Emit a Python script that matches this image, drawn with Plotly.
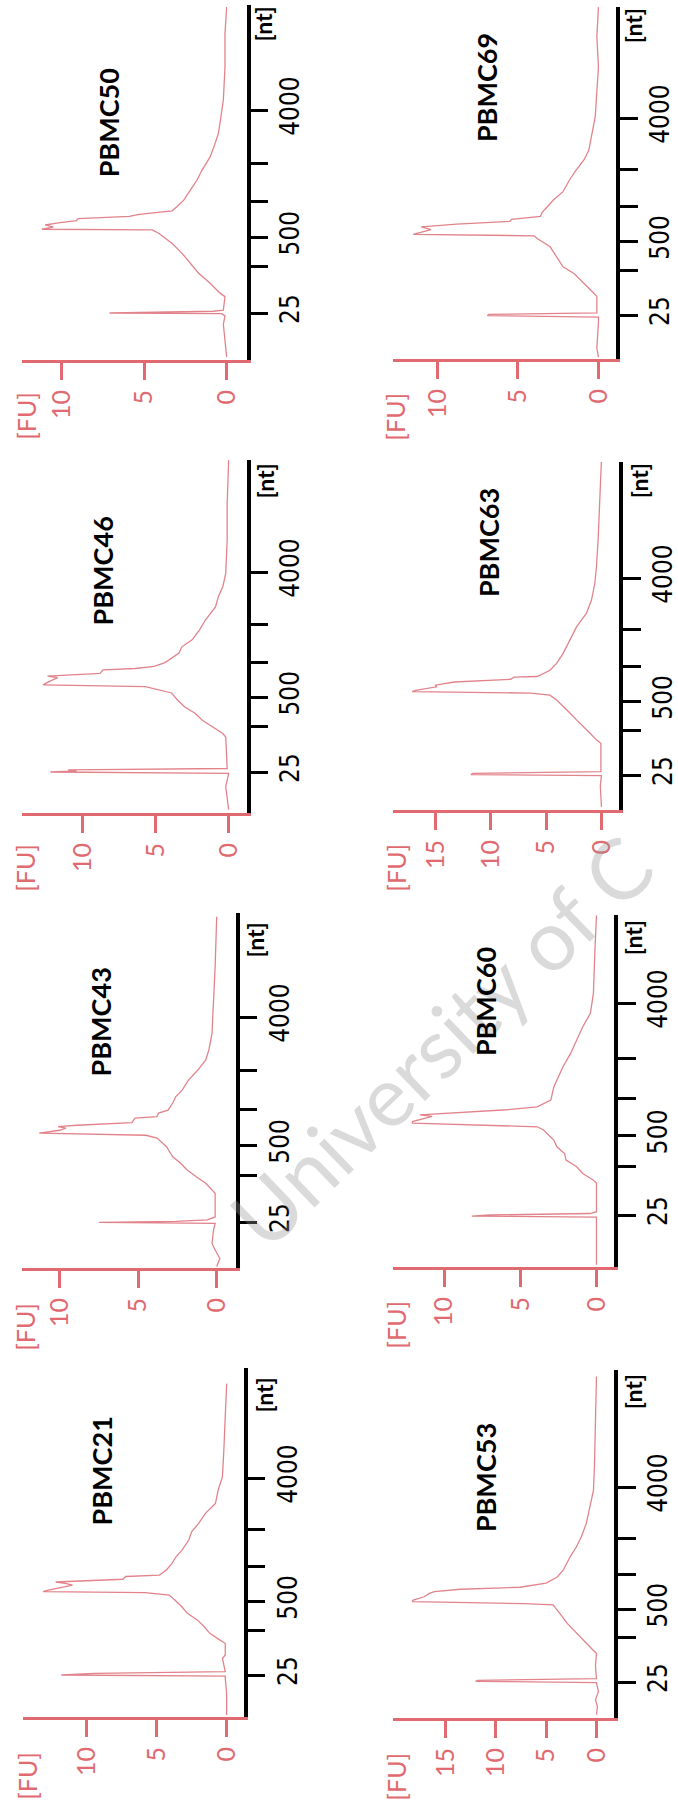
import plotly.graph_objects as go

W, H = 678, 1814

# ---------------- data ----------------
sample_names = ["PBMC50", "PBMC69", "PBMC46", "PBMC63", "PBMC43", "PBMC60", "PBMC21", "PBMC53"]

# ladder: size (nt) and migration time (s) of each tick
ladder_nt = [25, 200, 500, 1000, 2000, 4000]
ladder_time = [25.6, 32.1, 36.3, 41.3, 46.7, 54.2]
ladder_labels = ["25", "", "500", "", "", "4000"]

fu_ticks_small = [0, 5, 10]
fu_ticks_large = [0, 5, 10, 15]

t_pbmc50 = [19.4, 22.0, 24.0, 25.2, 25.5, 25.6, 25.75, 25.85, 26.0, 27.9, 28.4, 29.8, 31.2, 32.6, 34.0, 35.4, 36.8, 37.3, 37.4, 37.7,
            38.0, 38.3, 38.6, 38.9, 39.2, 39.5, 40.0, 40.6, 41.5, 42.9, 44.3, 45.7, 47.6, 49.5, 50.9, 53.2, 55.6, 60.3, 65.0, 68.7]
fu_pbmc50 = [0.0, 0.1, 0.2, 0.1, 0.3, 7.1, 2.5, 0.8, 0.2, 0.1, 0.4, 1.0, 1.7, 2.2, 2.7, 3.3, 4.1, 4.5, 11.2, 10.5,
             11.0, 10.2, 9.1, 9.0, 5.9, 5.3, 3.3, 3.0, 2.6, 2.2, 1.8, 1.5, 1.0, 0.7, 0.5, 0.35, 0.2, 0.1, 0.1, 0.0]

t_pbmc69 = [19.5, 20.8, 24.5, 25.3, 25.5, 25.7, 25.9, 28.3, 28.8, 30.2, 31.6, 32.6, 34.1, 35.5, 36.7, 37.1, 37.3, 37.7, 38.0, 38.4,
            38.8, 39.2, 39.5, 39.9, 40.5, 41.5, 42.3, 43.5, 45.2, 46.6, 48.1, 49.5, 52.0, 54.4, 58.0, 61.6, 66.0, 70.3]
fu_pbmc69 = [0.0, 0.1, 0.0, 0.0, 6.9, 6.8, 0.1, 0.1, 0.3, 0.9, 1.5, 2.2, 2.6, 3.0, 3.8, 4.0, 11.5, 10.8, 10.4, 11.0,
             8.8, 5.5, 5.4, 3.6, 3.5, 3.1, 2.8, 2.2, 1.8, 1.4, 0.9, 0.6, 0.4, 0.2, 0.1, 0.0, 0.1, 0.0]

t_pbmc46 = [20.2, 23.5, 25.4, 25.6, 25.75, 25.9, 26.1, 30.6, 31.1, 32.1, 33.0, 34.0, 34.9, 35.9, 36.9, 37.8, 38.05, 38.3, 38.9, 39.1,
            39.3, 39.7, 40.2, 40.4, 40.7, 41.2, 41.6, 42.6, 43.5, 44.5, 45.9, 47.3, 49.2, 50.7, 52.1, 54.0, 58.8, 64.0, 70.2]
fu_pbmc46 = [0.0, 0.2, 0.0, 12.2, 10.4, 11.0, 0.1, 0.2, 0.4, 1.1, 1.8, 2.3, 3.0, 3.5, 3.9, 5.7, 12.7, 12.5, 11.9, 11.7,
             12.4, 8.8, 8.6, 6.4, 5.1, 4.4, 4.1, 3.4, 3.2, 2.5, 2.0, 1.6, 0.9, 0.7, 0.4, 0.2, 0.1, 0.1, 0.0]

t_pbmc63 = [21.0, 24.0, 25.5, 25.65, 25.85, 26.1, 30.2, 30.7, 31.7, 32.6, 33.6, 34.6, 35.5, 36.5, 37.2, 37.5, 37.7, 37.9, 38.4, 38.65,
            39.1, 39.5, 39.8, 39.9, 40.8, 41.8, 43.3, 45.2, 47.1, 49.1, 51.0, 53.4, 55.8, 59.7, 64.5, 71.3]
fu_pbmc63 = [0.0, 0.1, 0.0, 11.8, 11.6, 0.05, 0.05, 0.45, 1.05, 1.65, 2.25, 2.85, 3.45, 4.05, 4.65, 6.4, 17.1, 16.8, 14.9, 15.0,
             13.3, 8.2, 7.9, 5.8, 4.65, 4.05, 3.45, 2.85, 2.25, 1.35, 0.9, 0.6, 0.45, 0.3, 0.15, 0.0]

t_pbmc43 = [19.4, 20.5, 21.7, 22.6, 24.5, 25.4, 25.55, 25.7, 25.9, 26.3, 29.6, 30.1, 31.0, 31.9, 32.9, 33.8, 34.7, 36.1, 37.3, 37.7,
            38.0, 38.4, 38.7, 38.9, 39.1, 39.45, 40.1, 40.3, 40.8, 41.2, 42.2, 43.1, 44.0, 45.4, 46.8, 48.2, 49.6, 51.9, 56.6, 61.2, 68.2]
fu_pbmc43 = [0.0, -0.2, 0.1, 0.3, 0.2, 0.1, 7.5, 2.6, 0.6, 0.1, 0.1, 0.3, 0.7, 1.3, 1.9, 2.3, 2.8, 3.2, 3.8, 4.5,
             11.3, 10.0, 9.6, 10.1, 8.9, 5.4, 5.2, 3.8, 3.7, 3.1, 2.8, 2.6, 2.2, 1.8, 1.2, 0.7, 0.5, 0.3, 0.2, 0.1, 0.0]

t_pbmc60 = [18.9, 23.0, 25.3, 25.45, 25.6, 25.8, 26.05, 29.9, 30.3, 31.2, 32.1, 33.0, 33.9, 34.8, 35.7, 37.1, 37.5, 38.0, 38.2, 38.65,
            38.9, 39.1, 39.4, 39.8, 40.2, 41.1, 42.9, 43.8, 45.6, 47.4, 49.2, 51.0, 52.8, 55.5, 61.4, 66.0]
fu_pbmc60 = [0.0, 0.0, 0.0, 8.2, 7.0, 0.4, 0.0, 0.0, 0.2, 0.9, 1.3, 2.0, 2.1, 2.6, 2.8, 3.5, 3.9, 12.1, 12.1, 11.3,
             10.8, 11.6, 9.3, 5.9, 3.9, 3.0, 2.8, 2.6, 2.2, 1.7, 1.3, 0.9, 0.4, 0.2, 0.1, 0.0]

t_pbmc21 = [19.8, 23.0, 25.1, 25.45, 25.6, 25.85, 26.1, 28.0, 28.5, 30.2, 30.7, 31.65, 32.6, 33.6, 34.55, 35.5, 36.5, 37.2, 37.55, 37.7,
            37.9, 38.4, 38.65, 38.9, 39.1, 39.5, 39.9, 40.1, 40.85, 41.8, 42.8, 43.7, 45.2, 46.4, 47.6, 49.1, 50.5, 52.5, 54.4, 58.3, 67.9]
fu_pbmc21 = [0.0, 0.0, 0.1, 0.1, 11.8, 9.4, 0.1, 0.3, 0.1, 0.1, 0.5, 1.2, 1.6, 2.1, 2.8, 3.2, 3.7, 4.1, 5.8, 13.1,
             12.8, 11.6, 11.0, 11.5, 12.2, 7.4, 7.2, 4.8, 4.3, 3.9, 3.6, 3.2, 2.7, 2.5, 2.0, 1.5, 0.8, 0.6, 0.3, 0.2, 0.0]

t_pbmc53 = [20.8, 22.0, 23.0, 24.2, 25.5, 25.7, 25.85, 26.1, 28.0, 29.8, 30.3, 31.3, 32.2, 33.2, 34.2, 35.2, 36.2, 36.9, 37.1, 37.4,
            37.6, 38.1, 38.6, 38.85, 39.2, 39.5, 40.1, 41.0, 42.0, 44.0, 45.4, 46.9, 48.9, 50.8, 53.7, 57.2, 63.0, 70.4]
fu_pbmc53 = [0.0, -0.1, 0.1, -0.2, 0.0, 12.0, 11.8, 0.0, 0.1, 0.0, 0.35, 1.0, 1.6, 2.3, 2.9, 3.4, 3.9, 4.3, 7.2, 18.3,
             18.2, 17.1, 16.6, 16.1, 13.5, 7.6, 5.0, 3.9, 3.3, 2.6, 2.0, 1.5, 1.0, 0.7, 0.3, 0.2, 0.1, 0.0]

series_time = [t_pbmc50, t_pbmc69, t_pbmc46, t_pbmc63, t_pbmc43, t_pbmc60, t_pbmc21, t_pbmc53]
series_fu = [fu_pbmc50, fu_pbmc69, fu_pbmc46, fu_pbmc63, fu_pbmc43, fu_pbmc60, fu_pbmc21, fu_pbmc53]
fu_tickset = [fu_ticks_small, fu_ticks_small, fu_ticks_small, fu_ticks_large,
              fu_ticks_small, fu_ticks_small, fu_ticks_small, fu_ticks_large]

# ---------------- layout geometry (pixels) ----------------
# x_left, x_axis_nt, y_top, y_axis_fu, x_of_FU0, px_per_FU, y_of_25nt, y_of_4000nt
geom = [
    (22, 248, 5, 360, 228, 16.6, 313, 110),
    (395, 620, 7, 359, 602, 16.2, 315, 118),
    (22, 248, 460, 813, 230, 14.7, 772, 572),
    (395, 623, 462, 810, 605, 11.13, 775, 578),
    (22, 237, 913, 1268, 218, 15.8, 1222, 1017),
    (395, 618, 915, 1267, 600, 15.3, 1215, 1003),
    (23, 245, 1368, 1717, 228, 14.1, 1675, 1478),
    (395, 618, 1370, 1718, 600, 10.13, 1682, 1487),
]
title_pos = [(109, 123), (489, 88), (104, 571), (491, 543), (102, 1022), (488, 1002), (102, 1471), (488, 1478)]
nt_pos = [(265, 24), (637, 26), (267, 481), (643, 481), (257, 940), (637, 938), (266, 1395), (637, 1392)]
fu_pos = [(26, 416), (397, 417), (25, 868), (398, 868), (25, 1327), (398, 1325), (27, 1776), (398, 1777)]

FU_COLOR = "#e06a70"
TRACE_COLOR = "#e2838b"
LABEL_FONT = "Lato, 'Open Sans', sans-serif"
NT_FONT = "'Liberation Sans Narrow', 'DejaVu Sans Condensed', sans-serif"

fig = go.Figure()
layout = dict(
    width=W, height=H, margin=dict(l=0, r=0, t=0, b=0),
    paper_bgcolor="white", plot_bgcolor="rgba(0,0,0,0)", showlegend=False,
)
annotations = []

# watermark (drawn first, below the labels)
annotations.append(dict(
    text="University of C", xref="paper", yref="paper", x=443 / W, y=1 - 1040 / H,
    xanchor="center", yanchor="middle", textangle=-44, showarrow=False,
    font=dict(family=LABEL_FONT, size=84, color="rgba(150,150,150,0.35)"),
))

for i, name in enumerate(sample_names):
    x0, x1, yt, yb, xf0, ppf, y25, y4k = geom[i]
    xa = "x" if i == 0 else f"x{i+1}"
    ya = "y" if i == 0 else f"y{i+1}"
    fig.add_trace(go.Scatter(
        x=series_fu[i], y=series_time[i], mode="lines",
        line=dict(color=TRACE_COLOR, width=1.3),
        xaxis=xa, yaxis=ya, hoverinfo="skip", showlegend=False,
    ))
    fu_max = (xf0 - x0) / ppf
    fu_min = (xf0 - x1) / ppf
    pps = (y25 - y4k) / (ladder_time[-1] - ladder_time[0])
    t_bot = ladder_time[0] - (yb - y25) / pps
    t_top = ladder_time[0] + (y25 - yt) / pps
    xkey = "xaxis" if i == 0 else f"xaxis{i+1}"
    ykey = "yaxis" if i == 0 else f"yaxis{i+1}"
    layout[xkey] = dict(
        domain=[x0 / W, x1 / W], range=[fu_max, fu_min], anchor=ya, side="bottom",
        showgrid=False, zeroline=False, showline=True, linecolor=FU_COLOR, linewidth=3,
        ticks="outside", ticklen=17, tickwidth=3, tickcolor=FU_COLOR,
        tickvals=fu_tickset[i], ticktext=[str(v) for v in fu_tickset[i]],
        tickangle=-90, tickfont=dict(family=LABEL_FONT, size=25, color=FU_COLOR),
        fixedrange=True,
    )
    layout[ykey] = dict(
        domain=[1 - yb / H, 1 - yt / H], range=[t_bot, t_top], anchor=xa, side="right",
        showgrid=False, zeroline=False, showline=True, linecolor="black", linewidth=3.5,
        ticks="outside", ticklen=18, tickwidth=3, tickcolor="black",
        tickvals=ladder_time, ticktext=ladder_labels,
        tickangle=-90, tickfont=dict(family=NT_FONT, size=26, color="black"),
        fixedrange=True,
    )
    tx, ty = title_pos[i]
    annotations.append(dict(
        text=f"<b>{name}</b>", xref="paper", yref="paper", x=tx / W, y=1 - ty / H,
        xanchor="center", yanchor="middle", textangle=-90, showarrow=False,
        font=dict(family=LABEL_FONT, size=27, color="black"),
    ))
    nx, ny = nt_pos[i]
    annotations.append(dict(
        text="<b>[nt]</b>", xref="paper", yref="paper", x=nx / W, y=1 - ny / H,
        xanchor="center", yanchor="middle", textangle=-90, showarrow=False,
        font=dict(family=LABEL_FONT, size=23, color="black"),
    ))
    fx, fy = fu_pos[i]
    annotations.append(dict(
        text="[FU]", xref="paper", yref="paper", x=fx / W, y=1 - fy / H,
        xanchor="center", yanchor="middle", textangle=-90, showarrow=False,
        font=dict(family=LABEL_FONT, size=25, color=FU_COLOR),
    ))

layout["annotations"] = annotations
fig.update_layout(**layout)
fig.write_html("out.html")
